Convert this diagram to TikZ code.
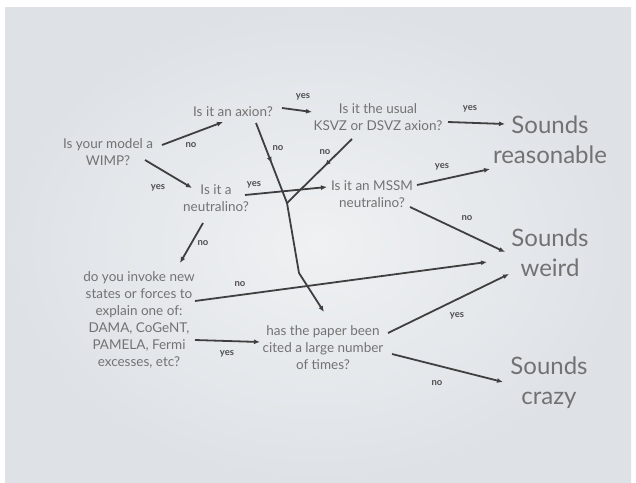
\documentclass[tikz,border=0pt]{standalone}
\usepackage{fontspec}
\setmainfont{Lato}
\usetikzlibrary{arrows.meta,calc,decorations.markings}
\definecolor{bgin}{HTML}{EFF1F2}
\definecolor{bgout}{HTML}{DEE2E7}
\definecolor{txt}{HTML}{727272}
\definecolor{lblc}{HTML}{4E4E4E}
\definecolor{linec}{HTML}{3F3F3F}
\begin{document}
\begin{tikzpicture}[x=1pt,y=-1pt,
  q/.style={text=txt, align=center, inner sep=0pt, font=\fontsize{13.5}{17}\selectfont},
  big/.style={text=txt, align=center, inner sep=0pt, font=\fontsize{24}{30}\selectfont},
  lab/.style={text=lblc, inner sep=0pt, font=\fontsize{9.5}{10}\selectfont\bfseries},
  conn/.style={draw=linec, line width=1.8pt, -{Latex[length=6pt,width=5pt]}},
  plainline/.style={draw=linec, line width=1.8pt},
  midarrow/.style={postaction={decorate, decoration={markings, mark=at position #1 with {\arrow[color=linec]{Latex[length=6pt,width=5pt]}}}}}
]
\fill[white] (0,0) rectangle (636,482);
\shade[inner color=bgin, outer color=bgout] (5,7) rectangle (631,482);
\useasboundingbox (0,0) rectangle (636,482);

% question nodes
\node[q] (wimp) at (108,152) {Is your model a\\WIMP?};
\node[q] (axion) at (233,112) {Is it an axion?};
\node[q] (ksvz) at (378,117) {Is it the usual\\KSVZ or DSVZ axion?};
\node[q] (neut) at (216,198) {Is it a\\neutralino?};
\node[q] (mssm) at (372,194.5) {Is it an MSSM\\neutralino?};
\node[q] (invoke) at (139,319.5) {do you invoke new\\states or forces to\\explain one of:\\DAMA, CoGeNT,\\PAMELA, Fermi\\excesses, etc?};
\node[q] (paper) at (323,348) {has the paper been\\cited a large number\\of times?};

% outcomes
\node[big] (reas) at (550,140) {Sounds\\reasonable};
\node[big] (weird) at (550,253) {Sounds\\weird};
\node[big] (crazy) at (549,383) {Sounds\\crazy};

% junctions
\coordinate (merge) at (287,203);
\coordinate (bend) at (299,273);

% connectors
\draw[conn] ([shift={(54,-7)}]wimp.center) -- ([shift={(-10,10)}]axion.center);
\draw[conn] ([shift={(37,8)}]wimp.center) -- ([shift={(-24,-10)}]neut.center);
\draw[conn] ([shift={(49,-4)}]axion.center) -- ([shift={(-66,-5)}]ksvz.center);
\draw[conn] ([shift={(70,5)}]ksvz.center) -- ([shift={(-45,-16)}]reas.center);
\draw[conn] ([shift={(29,-3)}]neut.center) -- ([shift={(-45,-7.5)}]mssm.center);
\draw[conn] ([shift={(45,-9.5)}]mssm.center) -- ([shift={(-60,29)}]reas.center);
\draw[conn] ([shift={(38,12.5)}]mssm.center) -- ([shift={(-45,-1)}]weird.center);
\draw[conn] ([shift={(-13,25)}]neut.center) -- ([shift={(41,-56.5)}]invoke.center);
\draw[conn] ([shift={(56,-18.5)}]invoke.center) -- ([shift={(-63,9)}]weird.center);
\draw[conn] ([shift={(56,20.5)}]invoke.center) -- ([shift={(-63,-6)}]paper.center);
\draw[conn] ([shift={(65,-15)}]paper.center) -- ([shift={(-41,21)}]weird.center);
\draw[conn] ([shift={(69,6)}]paper.center) -- ([shift={(-46,-1)}]crazy.center);
\draw[plainline, midarrow=0.5] ([shift={(23,11)}]axion.center) -- (merge);
\draw[conn] (merge) -- (bend) -- ([shift={(1,-36)}]paper.center);
\draw[plainline, midarrow=0.42] ([shift={(-26,22)}]ksvz.center) -- (merge);

% labels
\node[lab] (l1) at (191,145) {no};
\node[lab] (l2) at (158,188) {yes};
\node[lab] (l3) at (303,97) {yes};
\node[lab] (l4) at (470,109) {yes};
\node[lab] (l5) at (278,148) {no};
\node[lab] (l6) at (325,152) {no};
\node[lab] (l7) at (254,185) {yes};
\node[lab] (l8) at (442,167) {yes};
\node[lab] (l9) at (467,218) {no};
\node[lab] (l10) at (203,243) {no};
\node[lab] (l11) at (240,284) {no};
\node[lab] (l12) at (227,354) {yes};
\node[lab] (l13) at (457,316) {yes};
\node[lab] (l14) at (437,383) {no};
\end{tikzpicture}
\end{document}
